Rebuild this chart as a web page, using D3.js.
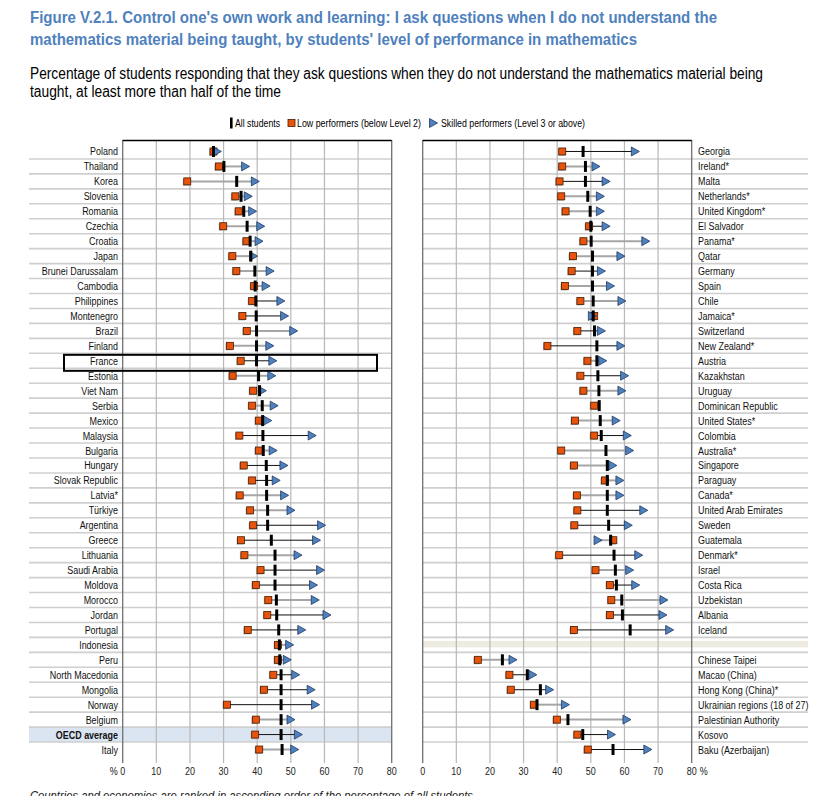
<!DOCTYPE html>
<html>
<head>
<meta charset="utf-8">
<script src="https://cdn.jsdelivr.net/npm/d3@7"></script>
<style>
  body { margin: 0; background: #fff; }
  text { font-family: "Liberation Sans Narrow", "Arial Narrow", "Liberation Sans", sans-serif; }
</style>
</head>
<body>
<svg width="814" height="796"></svg>
<script>
// left panel, ranked by all students
var leftCountries = ["Poland", "Thailand", "Korea", "Slovenia", "Romania", "Czechia", "Croatia", "Japan",
  "Brunei Darussalam", "Cambodia", "Philippines", "Montenegro", "Brazil", "Finland", "France", "Estonia",
  "Viet Nam", "Serbia", "Mexico", "Malaysia", "Bulgaria", "Hungary", "Slovak Republic", "Latvia*", "Türkiye",
  "Argentina", "Greece", "Lithuania", "Saudi Arabia", "Moldova", "Morocco", "Jordan", "Portugal", "Indonesia",
  "Peru", "North Macedonia", "Mongolia", "Norway", "Belgium", "OECD average", "Italy"];
var leftLow = [27.0, 28.6, 19.2, 33.5, 34.5, 29.9, 36.8, 32.6, 33.8, 39.1, 38.5, 35.6, 36.9, 31.9, 35.1, 32.7,
  38.8, 38.5, 40.5, 34.7, 40.5, 36.0, 38.5, 34.8, 37.9, 38.8, 35.2, 36.2, 41.0, 39.6, 43.3, 43.0, 37.2, 46.2,
  46.2, 44.8, 42.0, 31.0, 39.6, 39.4, 40.6];
var leftAll = [27.0, 30.1, 33.9, 35.2, 36.0, 37.0, 37.9, 38.1, 39.3, 39.4, 39.6, 39.7, 39.8, 39.8, 39.8, 40.4,
  40.7, 41.5, 41.6, 41.7, 41.8, 42.7, 42.8, 42.8, 43.1, 43.1, 44.2, 45.3, 45.3, 45.3, 45.7, 45.8, 46.4, 46.6,
  46.7, 47.1, 47.1, 47.1, 47.1, 47.1, 47.4];
var leftSkilled = [28.0, 36.4, 39.3, 37.2, 38.5, 40.9, 40.4, 38.8, 43.7, 42.5, 46.9, 48.0, 50.7, 43.6, 44.5, 44.2,
  41.4, 44.9, 43.0, 56.2, 44.6, 47.8, 45.5, 48.0, 49.9, 59.0, 57.5, 52.0, 58.7, 56.6, 57.1, 60.6, 53.1, 49.5,
  48.8, 51.3, 55.9, 57.2, 49.9, 52.1, 51.0];
// 1 = difference between low and skilled performers is significant (dark line)
var leftSig = [0, 0, 0, 0, 0, 0, 0, 0, 0, 0, 1, 1, 0, 0, 1, 0, 0, 0, 0, 1, 0, 1, 1, 0, 0, 1, 1, 0, 1, 1, 0, 1, 1, 0,
  0, 1, 1, 1, 0, 1, 0];

// right panel; the empty entry is the break before the second group
var rightCountries = ["Georgia", "Ireland*", "Malta", "Netherlands*", "United Kingdom*", "El Salvador", "Panama*",
  "Qatar", "Germany", "Spain", "Chile", "Jamaica*", "Switzerland", "New Zealand*", "Austria", "Kazakhstan",
  "Uruguay", "Dominican Republic", "United States*", "Colombia", "Australia*", "Singapore", "Paraguay", "Canada*",
  "United Arab Emirates", "Sweden", "Guatemala", "Denmark*", "Israel", "Costa Rica", "Uzbekistan", "Albania",
  "Iceland", "", "Chinese Taipei", "Macao (China)", "Hong Kong (China)*", "Ukrainian regions (18 of 27)",
  "Palestinian Authority", "Kosovo", "Baku (Azerbaijan)"];
var rightLow = [41.5, 41.5, 40.7, 41.2, 42.5, 49.5, 47.8, 44.7, 44.3, 42.3, 46.9, 51.0, 46.0, 37.1, 49.0, 46.9,
  47.8, 51.0, 45.3, 51.0, 41.2, 45.0, 54.2, 45.9, 46.0, 45.1, 56.7, 40.6, 51.4, 55.7, 56.1, 55.7, 45.0, null,
  16.4, 25.8, 26.2, 33.1, 39.9, 46.0, 49.1];
var rightAll = [47.7, 48.4, 48.4, 49.1, 49.8, 50.0, 50.1, 50.5, 50.5, 50.5, 50.7, 50.7, 51.1, 51.8, 51.8, 52.1,
  52.4, 52.5, 52.8, 53.1, 54.5, 54.9, 54.9, 54.9, 54.9, 55.3, 55.9, 56.9, 57.3, 57.6, 59.2, 59.4, 61.7, null,
  23.7, 31.1, 35.0, 34.0, 43.2, 47.6, 56.6];
var rightSkilled = [63.1, 51.4, 54.4, 52.7, 52.7, 54.4, 66.2, 58.8, 53.0, 55.7, 59.1, 50.3, 53.0, 58.8, 53.4, 59.9,
  59.1, null, 57.4, 60.7, 61.4, 56.4, 58.5, 58.5, 65.6, 61.0, 52.0, 64.1, 61.4, 63.2, 71.6, 71.3, 73.3, null,
  26.7, 32.6, 37.6, 42.3, 60.6, 56.0, 66.8];
var rightSig = [1, 0, 1, 0, 0, 1, 0, 0, 1, 0, 0, 0, 1, 1, 0, 1, 0, 0, 0, 1, 0, 0, 0, 0, 1, 1, 0, 1, 0, 1, 0, 1, 1, 0,
  0, 1, 1, 0, 0, 1, 1];

var xTicks = [0, 10, 20, 30, 40, 50, 60, 70, 80];

var svg = d3.select("svg");
var blue = "#4f81bd", orange = "#e8540c";
var narrow = 0.78; // horizontal squeeze to mimic a narrow face

// titles
svg.append("text").attr("x", 30).attr("y", 23).attr("fill", blue)
  .attr("font-size", 16).attr("font-weight", "bold")
  .attr("textLength", 687).attr("lengthAdjust", "spacingAndGlyphs")
  .text("Figure V.2.1. Control one's own work and learning: I ask questions when I do not understand the");
svg.append("text").attr("x", 30).attr("y", 45).attr("fill", blue)
  .attr("font-size", 16).attr("font-weight", "bold")
  .attr("textLength", 607).attr("lengthAdjust", "spacingAndGlyphs")
  .text("mathematics material being taught, by students' level of performance in mathematics");
svg.append("text").attr("x", 30).attr("y", 79).attr("fill", "#000")
  .attr("font-size", 16)
  .attr("textLength", 733).attr("lengthAdjust", "spacingAndGlyphs")
  .text("Percentage of students responding that they ask questions when they do not understand the mathematics material being");
svg.append("text").attr("x", 30).attr("y", 97).attr("fill", "#000")
  .attr("font-size", 16)
  .attr("textLength", 251).attr("lengthAdjust", "spacingAndGlyphs")
  .text("taught, at least more than half of the time");

// scales
var y = d3.scaleBand().domain(d3.range(41)).range([144, 757]);
var xL = d3.scaleLinear().domain([0, 80]).range([122.7, 391.7]);
var xR = d3.scaleLinear().domain([0, 80]).range([422.7, 691.7]);

function triPath(cx, cy) {
  return "M" + (cx - 3.5) + "," + (cy - 4.5) + "L" + (cx + 4.5) + "," + cy + "L" + (cx - 3.5) + "," + (cy + 4.5) + "Z";
}

// legend
var lg = svg.append("g").attr("transform", "translate(0,123)");
lg.append("rect").attr("x", 230).attr("y", -5.5).attr("width", 2.6).attr("height", 11).attr("fill", "#000");
lg.append("text").attr("x", 235).attr("y", 3.5).attr("font-size", 10)
  .attr("textLength", 45).attr("lengthAdjust", "spacingAndGlyphs").text("All students");
lg.append("rect").attr("x", 288).attr("y", -3.5).attr("width", 7).attr("height", 7)
  .attr("fill", orange).attr("stroke", "#4a1a00").attr("stroke-width", 0.8);
lg.append("text").attr("x", 297).attr("y", 3.5).attr("font-size", 10)
  .attr("textLength", 124).attr("lengthAdjust", "spacingAndGlyphs").text("Low performers (below Level 2)");
lg.append("path").attr("d", triPath(433, 0)).attr("fill", blue).attr("stroke", "#1f3864").attr("stroke-width", 0.8);
lg.append("text").attr("x", 441).attr("y", 3.5).attr("font-size", 10)
  .attr("textLength", 144).attr("lengthAdjust", "spacingAndGlyphs").text("Skilled performers (Level 3 or above)");

function drawPanel(x, countries, low, all, skilled, sig, side) {
  var g = svg.append("g");
  var x0 = side === "left" ? 29 : 422;
  var x1 = side === "left" ? 392 : 808;

  // highlighted rows
  countries.forEach(function (c, i) {
    if (c === "OECD average") {
      g.append("rect").attr("x", x0).attr("y", y(i)).attr("width", x1 - x0).attr("height", y.bandwidth())
        .attr("fill", "#dbe5f1");
    }
    if (c === "") {
      g.append("rect").attr("x", x0).attr("y", y(i) + 3.5).attr("width", x1 - x0).attr("height", 6.5)
        .attr("fill", "#eeebe0");
    }
  });

  // row separators
  g.selectAll(".sep").data(d3.range(1, countries.length)).enter().append("line")
    .attr("x1", x0).attr("x2", x1)
    .attr("y1", function (i) { return y(i); }).attr("y2", function (i) { return y(i); })
    .attr("stroke", "#cfcfcf").attr("stroke-width", 1.6);

  // vertical grid
  g.selectAll(".vg").data(xTicks).enter().append("line")
    .attr("x1", function (d) { return x(d); }).attr("x2", function (d) { return x(d); })
    .attr("y1", 140).attr("y2", 763)
    .attr("stroke", function (d) { return (d === 0 || d === 80) ? "#707070" : "#b8b8b8"; })
    .attr("stroke-width", function (d) { return (d === 0 || d === 80) ? 1.3 : 1.2; });

  // top frame
  g.append("line").attr("x1", x(0)).attr("x2", x(80)).attr("y1", 140.5).attr("y2", 140.5)
    .attr("stroke", "#000").attr("stroke-width", 1.5);

  // tick labels
  g.selectAll(".tl").data(xTicks).enter().append("text")
    .attr("transform", function (d) { return "translate(" + x(d) + ",775) scale(" + narrow + ",1)"; })
    .attr("text-anchor", "middle").attr("font-size", 11.5).attr("fill", "#222")
    .text(function (d) { return d; });
  if (side === "left") {
    g.append("text").attr("transform", "translate(" + (x(0) - 5) + ",775) scale(" + narrow + ",1)")
      .attr("text-anchor", "end").attr("font-size", 11.5).attr("fill", "#222").text("%");
  } else {
    g.append("text").attr("transform", "translate(" + (x(80) + 8) + ",775) scale(" + narrow + ",1)")
      .attr("text-anchor", "start").attr("font-size", 11.5).attr("fill", "#222").text("%");
  }

  // country labels
  g.selectAll(".lab").data(countries).enter().append("text")
    .attr("transform", function (d, i) {
      return "translate(" + (side === "left" ? 118 : 698) + "," + (y(i) + y.bandwidth() / 2 + 4) +
        ") scale(" + narrow + ",1)";
    })
    .attr("text-anchor", side === "left" ? "end" : "start")
    .attr("font-size", 11.5)
    .attr("font-weight", function (d) { return d === "OECD average" ? "bold" : "normal"; })
    .attr("fill", "#111")
    .text(function (d) { return d; });

  var rows = d3.range(countries.length).filter(function (i) { return all[i] !== null; });
  var cy = function (i) { return y(i) + y.bandwidth() / 2; };

  // connecting lines
  g.selectAll(".ln").data(rows.filter(function (i) { return skilled[i] !== null; })).enter().append("line")
    .attr("x1", function (i) { return x(low[i]); }).attr("x2", function (i) { return x(skilled[i]); })
    .attr("y1", cy).attr("y2", cy)
    .attr("stroke", function (i) { return sig[i] ? "#111" : "#a6a6a6"; })
    .attr("stroke-width", function (i) { return sig[i] ? 1 : 2; });

  // low performers
  g.selectAll(".shs").data(rows).enter().append("rect")
    .attr("x", function (i) { return x(low[i]) - 4.5; }).attr("y", function (i) { return cy(i) - 2.5; })
    .attr("width", 7).attr("height", 7).attr("fill", "#bdbdbd");
  g.selectAll(".sq").data(rows).enter().append("rect")
    .attr("x", function (i) { return x(low[i]) - 3.5; }).attr("y", function (i) { return cy(i) - 3.5; })
    .attr("width", 7).attr("height", 7)
    .attr("fill", orange).attr("stroke", "#4a1a00").attr("stroke-width", 0.8);

  // skilled performers
  var sk = rows.filter(function (i) { return skilled[i] !== null; });
  g.selectAll(".tri").data(sk).enter().append("path")
    .attr("d", function (i) { return triPath(x(skilled[i]), cy(i)); })
    .attr("fill", blue).attr("stroke", "#1f3864").attr("stroke-width", 0.8);

  // all students
  g.selectAll(".bar").data(rows).enter().append("rect")
    .attr("x", function (i) { return x(all[i]) - 1.5; }).attr("y", function (i) { return cy(i) - 5.5; })
    .attr("width", 3).attr("height", 11).attr("fill", "#000");

  // France highlight box
  if (side === "left") {
    var fi = countries.indexOf("France");
    g.append("rect").attr("x", 64).attr("y", y(fi) + 1.5).attr("width", 313).attr("height", 16)
      .attr("fill", "none").attr("stroke", "#000").attr("stroke-width", 2);
  }
}

drawPanel(xL, leftCountries, leftLow, leftAll, leftSkilled, leftSig, "left");
drawPanel(xR, rightCountries, rightLow, rightAll, rightSkilled, rightSig, "right");

svg.append("text").attr("x", 30).attr("y", 800).attr("font-size", 13).attr("font-style", "italic")
  .attr("fill", "#222")
  .attr("textLength", 443).attr("lengthAdjust", "spacingAndGlyphs")
  .text("Countries and economies are ranked in ascending order of the percentage of all students");
</script>
</body>
</html>
